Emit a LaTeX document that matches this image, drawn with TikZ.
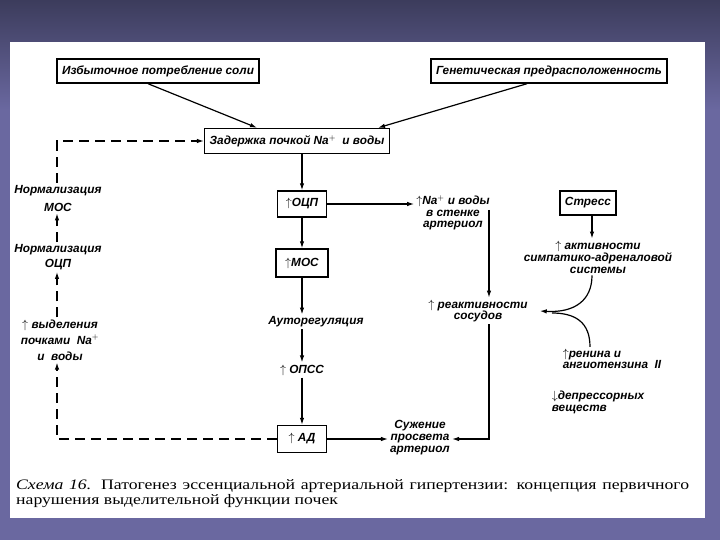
\documentclass[tikz,border=0pt]{standalone}
\usepackage{amsmath,amssymb}
\usepackage{fontspec}
\setmainfont{Liberation Serif}
\newfontfamily\schemefont{Liberation Sans}
\newfontfamily\captionfont[FakeStretch=1.22]{Liberation Serif}
\usepackage{tikz}
\usetikzlibrary{positioning}
\usetikzlibrary{arrows.meta}
\definecolor{slidetop}{HTML}{3C3C5C}
\definecolor{slidebottom}{HTML}{6A68A0}
\newcommand{\schemesize}[1]{\schemefont\bfseries\itshape\fontsize{11.8}{#1}\selectfont}
\tikzset{squarednode/.style={rectangle, draw=black, line width=1.4pt, fill=white, inner xsep=5pt, minimum height=24pt, font=\schemesize{14}}}
\tikzset{textnode/.style={align=center, inner sep=2pt, font=\schemesize{12}}}
\tikzset{flow/.style={-{Latex[length=7pt,width=4.5pt]}, line width=1.2pt}}
\tikzset{feedback/.style={flow, dash pattern=on 10pt off 6pt}}

\begin{document}
\begin{tikzpicture}[x=1pt,y=-1pt]

    % slide
    \useasboundingbox (0,0) rectangle (720,540);
    \fill[slidebottom] (0,0) rectangle (720,540);
    \shade[top color=slidetop, bottom color=slidebottom] (0,0) rectangle (720,110);
    \fill[white] (10,42) rectangle (705,518);

    % upper causes
    \node[squarednode]    (excess)      at (158,71)     {Избыточное потребление соли};
    \node[squarednode]    (genetic)     at (549,71)     {Генетическая предрасположенность};
    \node[squarednode, minimum height=25pt] (delay) at (297,141) {Задержка почкой Na$^{+}$\ \ и воды};

    % central chain
    \node[squarednode, minimum width=49pt, minimum height=26pt] (ocp) at (302,204) {$\uparrow$ОЦП};
    \node[squarednode, minimum width=52pt, minimum height=28pt] (mos) at (302,263) {$\uparrow$МОС};
    \node[textnode]       (autoreg)     at (316,322)    {Ауторегуляция};
    \node[textnode]       (opss)        at (302,370)    {$\uparrow$\ ОПСС};
    \node[squarednode, minimum width=49pt, minimum height=27pt] (ad) at (302,439) {$\uparrow$\ АД};
    \node[textnode, font=\schemesize{12}] (narrowing) at (420,438) {Сужение\\просвета\\артериол};

    % vessels
    \node[textnode, font=\schemesize{11.5}] (wallna) at (453,213) {$\uparrow$Na$^{+}$ и воды\\в стенке\\артериол};
    \coordinate (wallout) at (489,210);
    \node[textnode, font=\schemesize{11.5}] (reactivity) at (478,311) {$\uparrow$\ реактивности\\сосудов};

    % stress side
    \node[squarednode, minimum width=53pt] (stress) at (588,203) {Стресс};
    \node[textnode]       (sympath)     at (598,257)    {$\uparrow$\ активности\\симпатико-адреналовой\\системы};
    \node[textnode, align=left, font=\schemesize{11.5}] (renin) at (612,359) {$\uparrow$ренина и\\ангиотензина\ \ II};
    \node[textnode, align=left] (depressor) at (598,402) {$\downarrow$депрессорных\\веществ};

    % left feedback
    \node[textnode, font=\schemesize{18}] (normmos) at (58,198) {Нормализация\\МОС};
    \node[textnode, font=\schemesize{15}] (normocp) at (58,257) {Нормализация\\ОЦП};
    \node[textnode, font=\schemesize{16}] (excretion) at (60,340) {$\uparrow$ выделения\\почками\ \ Na$^{+}$\\и\ \ воды};

    \draw[flow] ([xshift=-10pt]excess.south) -- ([xshift=-40pt]delay.north);
    \draw[flow] ([xshift=-22pt]genetic.south) -- ([xshift=81pt]delay.north);
    \draw[flow] (delay.south -| ocp.north) -- (ocp.north);
    \draw[flow] (ocp.south) -- (mos.north);
    \draw[flow] (mos.south) -- (mos.south |- autoreg.north);
    \draw[flow] (autoreg.south -| mos.south) -- (opss.north);
    \draw[flow] (opss.south) -- (ad.north);
    \draw[flow] (ad.east) -- (ad.east -| narrowing.west);

    \draw[flow] (ocp.east) -- (ocp.east -| wallna.west);
    \draw[flow] (wallout) -- (wallout |- reactivity.north);
    \draw[flow] (reactivity.south -| wallout) -- (wallout |- ad.east) -- (ad.east -| narrowing.east);

    \draw[flow] (stress.south -| 592,0) -- (sympath.north -| 592,0);
    \draw[flow] (sympath.south -| 592,0) .. controls (592,300) and (575,313) .. ([xshift=10pt]reactivity.east);
    \draw[line width=1.2pt] (renin.north -| 590,0) .. controls (590,322) and (575,313) .. (552,313);

    \draw[feedback] (ad.west) -| (excretion.south -| 57,0);
    \draw[feedback] (excretion.north -| 57,0) -- (normocp.south -| 57,0);
    \draw[feedback] (normocp.north -| 57,0) -- (normmos.south -| 57,0);
    \draw[feedback] (normmos.north -| 57,0) |- (delay.west);

    % caption
    \node[anchor=north west, text width=673pt, align=justify, inner sep=0pt,
          font=\captionfont\fontsize{14.5}{15}\selectfont] (caption) at (16,479)
        {\textit{Схема 16.} Патогенез эссенциальной артериальной гипертензии: концепция первичного\linebreak нарушения выделительной функции почек};

\end{tikzpicture}
\end{document}
